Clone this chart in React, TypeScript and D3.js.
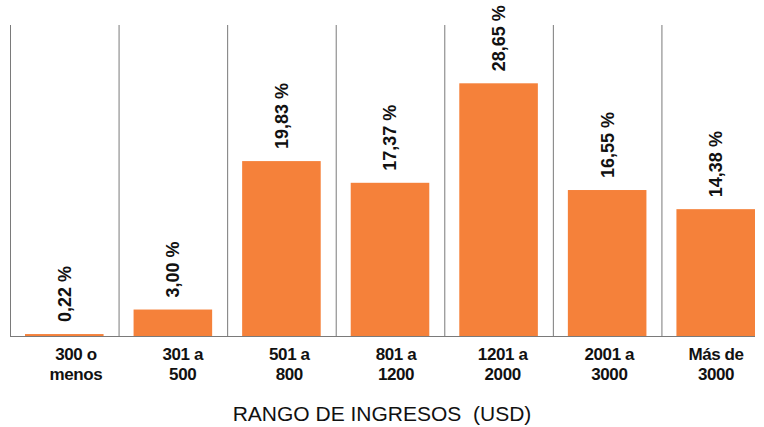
import React from "react";
import * as d3 from "d3";

const categories = ["300 o menos", "301 a 500", "501 a 800", "801 a 1200", "1201 a 2000", "2001 a 3000", "Más de 3000"];
const tickLines = [["300 o", "menos"], ["301 a", "500"], ["501 a", "800"], ["801 a", "1200"], ["1201 a", "2000"], ["2001 a", "3000"], ["Más de", "3000"]];
const values = [0.22, 3.0, 19.83, 17.37, 28.65, 16.55, 14.38];
const valueLabels = ["0,22 %", "3,00 %", "19,83 %", "17,37 %", "28,65 %", "16,55 %", "14,38 %"];

const W = 764;
const H = 427;
const baseY = 336;
const topY = 25;

const App = () => {
  const x = d3.scaleBand().domain(categories).range([10, 770]).padding(0);
  const y = d3.scaleLinear().domain([0, 35.26]).range([baseY, topY]);
  // tick labels sit on a slightly tighter spacing than the bands
  const xl = d3.scalePoint().domain(categories).range([76, 716]);
  const inset = 15;
  const bw = x.bandwidth() - inset * 2;
  const lastEnd = (x(categories[categories.length - 1]) || 0) + inset + bw;

  return (
    <svg width={W} height={H} style={{ position: "absolute", left: 0, top: 0, background: "#fff" }}
      fontFamily="'Liberation Sans', Arial, sans-serif">
      {categories.map((c) => (
        <line key={"g" + c} x1={x(c)! + 0.5} x2={x(c)! + 0.5} y1={topY} y2={baseY} stroke="#7a7a7a" strokeWidth={1} />
      ))}
      {categories.map((c, i) => (
        <rect key={"b" + c} x={x(c)! + inset} width={bw} y={y(values[i])} height={baseY - y(values[i])} fill="#f5813a" />
      ))}
      <line x1={10} x2={lastEnd} y1={baseY + 0.5} y2={baseY + 0.5} stroke="#7a7a7a" strokeWidth={1} />
      {categories.map((c, i) => {
        const cx = x(c)! + x.bandwidth() / 2;
        const ty = y(values[i]) - 12;
        return (
          <text key={"v" + c} transform={`translate(${cx},${ty}) rotate(-90)`} dy="0.36em"
            fontSize={18} fontWeight="bold" fill="#111">
            {valueLabels[i]}
          </text>
        );
      })}
      {categories.map((c, i) => (
        <text key={"t" + c} x={xl(c)} textAnchor="middle" fontSize={17} fontWeight="bold" fill="#111" letterSpacing={-0.4}>
          <tspan x={xl(c)} y={360}>{tickLines[i][0]}</tspan>
          <tspan x={xl(c)} y={380}>{tickLines[i][1]}</tspan>
        </text>
      ))}
      <text x={382} y={421} textAnchor="middle" fontSize={21} fill="#111" style={{ whiteSpace: "pre" }}>
        RANGO DE INGRESOS  (USD)
      </text>
    </svg>
  );
};

export default App;
